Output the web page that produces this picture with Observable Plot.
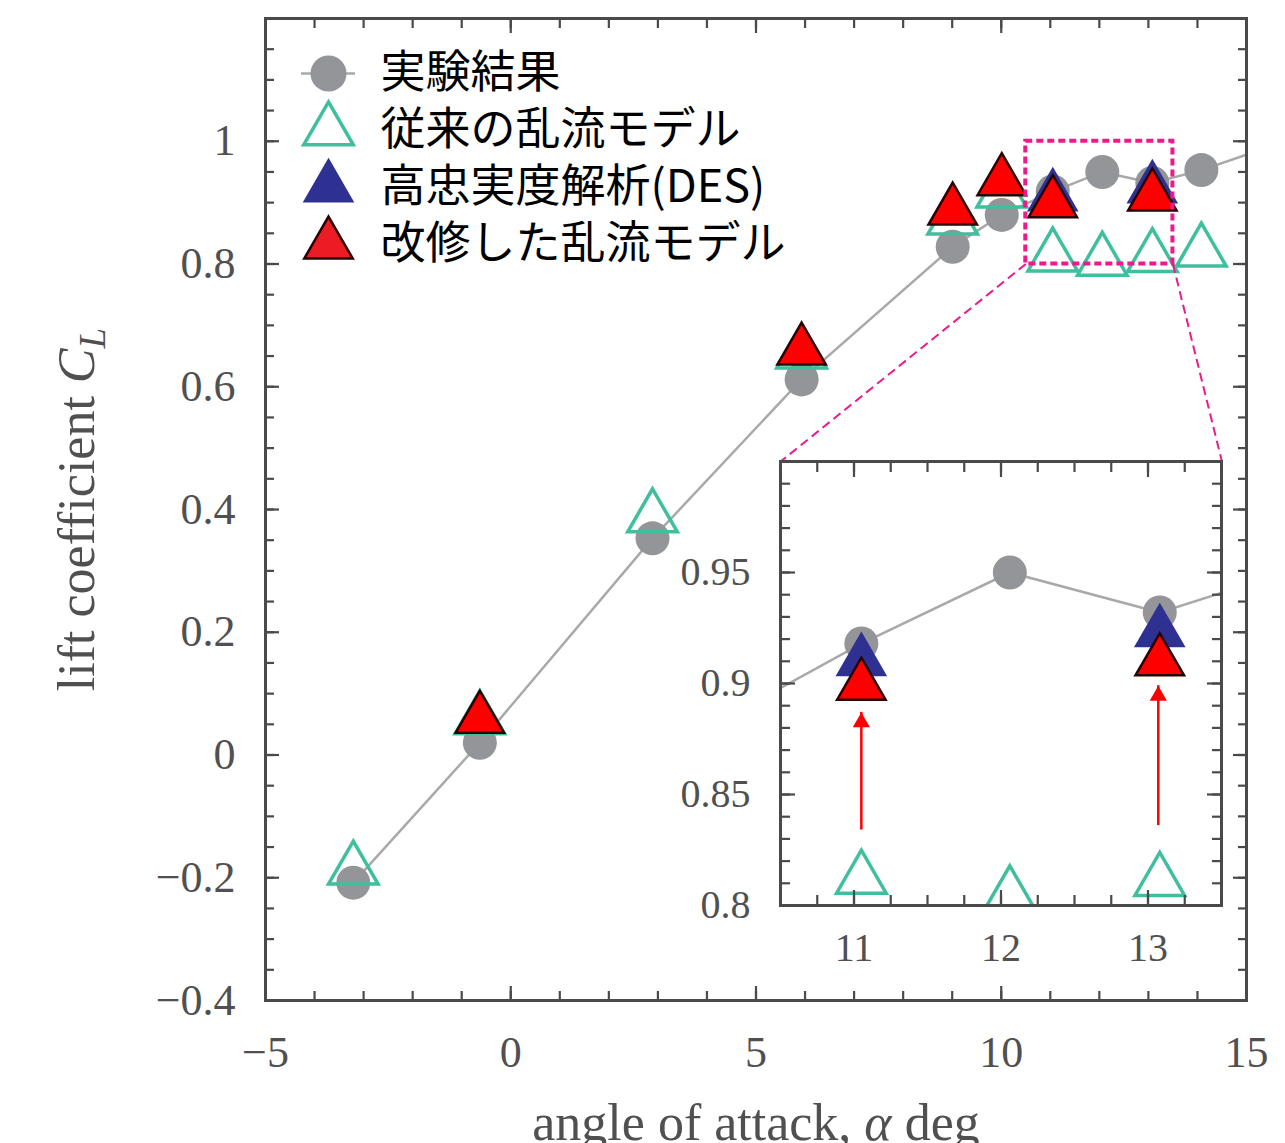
<!DOCTYPE html>
<html><head><meta charset="utf-8">
<script src="https://cdn.jsdelivr.net/npm/d3@7"></script>
<script src="https://cdn.jsdelivr.net/npm/@observablehq/plot@0.6"></script>
<style>
body{margin:0;background:#fff}
#wrap{position:relative;width:1285px;height:1143px;overflow:hidden;background:#fff}
#wrap svg{position:absolute}
</style>
</head><body><div id="wrap"></div>
<script>
// ---------------- data ----------------
const expAlpha  = [-3.21, -0.63, 2.89, 5.93, 9.01, 10.01, 11.05, 12.06, 13.08, 14.08, 16.1];
const expCL     = [-0.208, 0.020, 0.353, 0.612, 0.828, 0.880, 0.918, 0.950, 0.932, 0.953, 1.008];
const convAlpha = [-3.21, -0.63, 2.89, 5.93, 9.01, 10.01, 11.05, 12.06, 13.08, 14.08];
const convCL    = [-0.187, 0.058, 0.387, 0.654, 0.872, 0.916, 0.812, 0.805, 0.811, 0.820];
const desAlpha  = [11.05, 13.08];
const desCL     = [0.910, 0.923];
const modAlpha  = [-0.63, 5.93, 9.01, 10.01, 11.05, 13.08];
const modCL     = [0.059, 0.659, 0.887, 0.935, 0.899, 0.910];
const arrowAlpha = [11.05, 13.07];
const arrowFrom  = [0.834, 0.836];
const arrowTo    = [0.887, 0.899];

const legendLabels = ["実験結果", "従来の乱流モデル", "高忠実度解析(DES)", "改修した乱流モデル"];

const xTickValues = [-5, 0, 5, 10, 15];
const xTickLabels = ["−5", "0", "5", "10", "15"];
const yTickValues = [-0.4, -0.2, 0, 0.2, 0.4, 0.6, 0.8, 1];
const yTickLabels = ["−0.4", "−0.2", "0", "0.2", "0.4", "0.6", "0.8", "1"];
const insetXTickValues = [11, 12, 13];
const insetXTickLabels = ["11", "12", "13"];
const insetYTickValues = [0.8, 0.85, 0.9, 0.95];
const insetYTickLabels = ["0.8", "0.85", "0.9", "0.95"];

const xTitle = "angle of attack, α deg";
const yTitle = "lift coefficient CL";

const xDomain = [-5, 15], yDomain = [-0.4, 1.2];
const insetXDomain = [10.5, 13.5], insetYDomain = [0.8, 1.0];
// where the inset sits, in main-plot data units
const insetPlace = {x1: 5.5, x2: 14.5, y1: -0.245, y2: 0.478};

// ---------------- tables ----------------
const zip = (xs, ys) => xs.map((a, i) => ({a, v: ys[i]}));
const exp = zip(expAlpha, expCL);
const conv = zip(convAlpha, convCL);
const des = zip(desAlpha, desCL);
const mod = zip(modAlpha, modCL);
const arrows = arrowAlpha.map((a, i) => ({a, y1: arrowFrom[i], y2: arrowTo[i]}));

const range = (lo, hi, step) => { const n = Math.round((hi - lo) / step); return d3.range(n + 1).map(i => +(lo + i * step).toFixed(4)); };
const xMinor = range(-5, 15, 1), xMajor = range(-5, 15, 5);
const yMinor = range(-0.4, 1.2, 0.05), yMajor = range(-0.4, 1.2, 0.2);
const ixMinor = range(10.5, 13.5, 0.25), ixMajor = [11, 12, 13];
const iyMinor = range(0.8, 1.0, 0.01), iyMajor = range(0.8, 1.0, 0.05);

// ---------------- styles ----------------
const gray = "#949598", grayLine = "#a9a9a9", teal = "#3fbf9d", navy = "#2e3192",
      red = "#ff0000", redStroke = "#2a0202", pink = "#ec1a8c", axisCol = "#4a4a4a", labelCol = "#505050";
const serif = "Liberation Serif";
const fmt = (vals, labs) => d => labs[vals.findIndex(v => Math.abs(v - d) < 1e-9)];

function tickAxes(ticksMinor, ticksMajor, minorLen, majorLen) {
  const out = [];
  for (const [ticks, len] of [[ticksMinor, minorLen], [ticksMajor, majorLen]]) {
    for (const a of ["bottom", "top"]) out.push(Plot.axisX({anchor: a, ticks: ticks.x, tickSize: -len, fill: "none", stroke: axisCol, strokeWidth: 2.2, label: null, tickFormat: () => ""}));
    for (const a of ["left", "right"]) out.push(Plot.axisY({anchor: a, ticks: ticks.y, tickSize: -len, fill: "none", stroke: axisCol, strokeWidth: 2.2, label: null, tickFormat: () => ""}));
  }
  return out;
}

function dataMarks() {
  return [
    Plot.line(exp, {x: "a", y: "v", stroke: grayLine, strokeWidth: 2.5, clip: true}),
    Plot.dot(exp, {x: "a", y: "v", r: 17, fill: gray, clip: true}),
    Plot.dot(conv, {x: "a", y: "v", symbol: "triangle", r: 18.4, fill: "none", stroke: teal, strokeWidth: 3.5, clip: true}),
    Plot.dot(des, {x: "a", y: "v", symbol: "triangle", r: 18.2, fill: navy, stroke: navy, strokeWidth: 1.5, clip: true}),
    Plot.dot(mod, {x: "a", y: "v", symbol: "triangle", r: 18, fill: red, stroke: redStroke, strokeWidth: 2.5, clip: true})
  ];
}

const W = 1285, H = 1143, mL = 265, mR = 39, mT = 18, mB = 143;

const main = Plot.plot({
  width: W, height: H, marginLeft: mL, marginRight: mR, marginTop: mT, marginBottom: mB,
  style: {background: "white", overflow: "visible"},
  x: {domain: xDomain}, y: {domain: yDomain},
  marks: [
    ...dataMarks(),
    Plot.rect([{x1: insetXDomain[0], x2: insetXDomain[1], y1: insetYDomain[0], y2: insetYDomain[1]}],
      {x1: "x1", x2: "x2", y1: "y1", y2: "y2", fill: "none", stroke: pink, strokeWidth: 4, strokeDasharray: "7,4"}),
    Plot.link([
        {x1: insetXDomain[0], y1: insetYDomain[0], x2: insetPlace.x1, y2: insetPlace.y2},
        {x1: insetXDomain[1], y1: insetYDomain[0], x2: insetPlace.x2, y2: insetPlace.y2}],
      {x1: "x1", y1: "y1", x2: "x2", y2: "y2", stroke: pink, strokeWidth: 2, strokeDasharray: "9,5"}),
    Plot.frame({stroke: axisCol, strokeWidth: 3}),
    ...tickAxes({x: xMinor, y: yMinor}, {x: xMajor, y: yMajor}, 9, 14),
    Plot.axisX({anchor: "bottom", ticks: xTickValues, tickSize: 0, tickPadding: 35, tickFormat: fmt(xTickValues, xTickLabels),
      fontFamily: serif, fontSize: 44, fill: labelCol, label: null}),
    Plot.axisY({anchor: "left", ticks: yTickValues, tickSize: 0, tickPadding: 30, tickFormat: fmt(yTickValues, yTickLabels),
      fontFamily: serif, fontSize: 44, fill: labelCol, label: null}),
    Plot.text([xTitle], {frameAnchor: "bottom", dy: 123, textAnchor: "middle", lineAnchor: "middle", text: d => d,
      fontFamily: serif, fontSize: 52, fill: labelCol}),
    Plot.text([yTitle], {frameAnchor: "left", dx: -188, rotate: -90, textAnchor: "middle", lineAnchor: "middle", text: d => d,
      fontFamily: serif, fontSize: 52, fill: labelCol})
  ]
});

// rich text for titles (italic symbols, subscript)
function richen(svg, plain, parts) {
  const ns = "http://www.w3.org/2000/svg";
  svg.querySelectorAll("text").forEach(t => {
    if (t.textContent === plain) {
      t.textContent = "";
      for (const p of parts) {
        const ts = document.createElementNS(ns, "tspan");
        ts.textContent = p.t;
        if (p.i) ts.setAttribute("font-style", "italic");
        if (p.sub) { ts.setAttribute("font-size", "37"); ts.setAttribute("dy", "0.3em"); }
        t.appendChild(ts);
      }
    }
  });
}
richen(main, yTitle, [{t: "lift coefficient "}, {t: "C", i: true}, {t: "L", i: true, sub: true}]);
richen(main, xTitle, [{t: "angle of attack, "}, {t: "α", i: true}, {t: " deg"}]);

const wrap = document.getElementById("wrap");
main.style.left = "0px"; main.style.top = "0px";
wrap.appendChild(main);

// ---------------- legend ----------------
const lgW = 900, lgH = 300;
const legend = Plot.plot({
  width: lgW, height: lgH, marginLeft: 301, marginRight: lgW - 355, marginTop: 72, marginBottom: lgH - 245,
  style: {background: "transparent", overflow: "visible"},
  x: {domain: [-1, 1], axis: null},
  y: {type: "point", domain: legendLabels, padding: 0, axis: null},
  marks: [
    Plot.ruleY([legendLabels[0]], {y: d => d, x1: () => -1, x2: () => 1, stroke: grayLine, strokeWidth: 2.5}),
    Plot.dot([legendLabels[0]], {x: () => 0, y: d => d, r: 18, fill: gray}),
    Plot.dot([legendLabels[1]], {x: () => 0, y: d => d, symbol: "triangle", r: 18.4, fill: "none", stroke: teal, strokeWidth: 3.5}),
    Plot.dot([legendLabels[2]], {x: () => 0, y: d => d, symbol: "triangle", r: 18.2, fill: navy, stroke: navy, strokeWidth: 1.5}),
    Plot.dot([legendLabels[3]], {x: () => 0, y: d => d, symbol: "triangle", r: 18, fill: "#ed1c24", stroke: redStroke, strokeWidth: 2.5}),
    Plot.text(legendLabels, {x: () => 1, y: d => d, text: d => d, dx: 25, textAnchor: "start",
      fontFamily: "Noto Sans CJK JP", fontSize: 45, lineHeight: 1, fill: "#000"})
  ]
});
legend.style.left = "0px"; legend.style.top = "0px";
wrap.appendChild(legend);

// ---------------- inset ----------------
const sx = main.scale("x"), sy = main.scale("y");
const iML = 112, iMR = 20, iMT = 12, iMB = 80;
const iLeft = sx.apply(insetPlace.x1), iRight = sx.apply(insetPlace.x2);
const iTop = sy.apply(insetPlace.y2), iBottom = sy.apply(insetPlace.y1);
const inset = Plot.plot({
  width: Math.round(iRight - iLeft) + iML + iMR, height: Math.round(iBottom - iTop) + iMT + iMB,
  marginLeft: iML, marginRight: iMR, marginTop: iMT, marginBottom: iMB,
  style: {background: "transparent", overflow: "visible"},
  x: {domain: insetXDomain}, y: {domain: insetYDomain},
  marks: [
    Plot.frame({fill: "white"}),
    ...dataMarks(),
    Plot.ruleX(arrows, {x: "a", y1: "y1", y2: "y2", stroke: red, strokeWidth: 2.5}),
    Plot.dot(arrows, {x: "a", y: "y2", symbol: "triangle", r: 6.4, fill: red, dy: 10}),
    Plot.frame({stroke: axisCol, strokeWidth: 3}),
    ...tickAxes({x: ixMinor, y: iyMinor}, {x: ixMajor, y: iyMajor}, 10, 15),
    Plot.axisX({anchor: "bottom", ticks: insetXTickValues, tickSize: 0, tickPadding: 27, tickFormat: fmt(insetXTickValues, insetXTickLabels),
      fontFamily: serif, fontSize: 40, fill: labelCol, label: null}),
    Plot.axisY({anchor: "left", ticks: insetYTickValues, tickSize: 0, tickPadding: 30, tickFormat: fmt(insetYTickValues, insetYTickLabels),
      fontFamily: serif, fontSize: 40, fill: labelCol, label: null})
  ]
});
inset.style.left = (Math.round(iLeft) - iML) + "px";
inset.style.top = (Math.round(iTop) - iMT) + "px";
wrap.appendChild(inset);
</script>
</body></html>
